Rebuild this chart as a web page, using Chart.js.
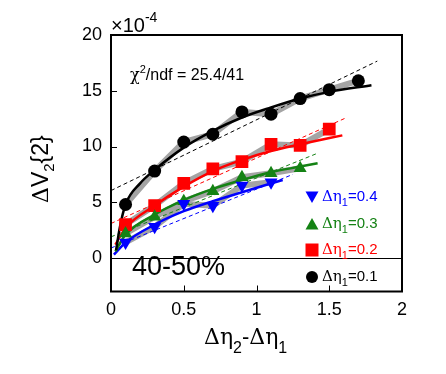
<!DOCTYPE html>
<html>
<head>
<meta charset="utf-8">
<script src="https://cdn.jsdelivr.net/npm/chart.js@4.4.1/dist/chart.umd.min.js"></script>
<style>
html, body { margin: 0; padding: 0; background: #fff; }
</style>
</head>
<body>
<canvas id="myChart" width="446" height="374"></canvas>
<script>
var xTicks = [0, 0.5, 1, 1.5, 2];
var yTicks = [0, 5, 10, 15, 20];

// Delta eta2 - Delta eta1 gap and Delta V2{2} (x 1e-4) per Delta eta1 selection
var etaGap = [0.1, 0.3, 0.5, 0.7, 0.9, 1.1, 1.3, 1.5, 1.7];
var v2Eta01 = [4.8, 7.8, 10.4, 11.1, 13.1, 12.9, 14.3, 15.1, 15.9];
var v2Eta02 = [3.0, 4.7, 6.7, 8.0, 8.65, 10.2, 10.1, 11.55];
var v2Eta03 = [2.2, 3.7, 5.1, 6.0, 7.25, 7.6, 8.05];
var v2Eta04 = [1.4, 2.8, 4.86, 4.7, 6.5, 6.8];

// fit curves
var fitX01 = [0.035, 0.06, 0.1, 0.2, 0.3, 0.5, 0.7, 0.9, 1.1, 1.3, 1.5, 1.79];
var fitY01 = [0.7, 2.7, 4.8, 6.7, 7.9, 9.9, 11.4, 12.6, 13.5, 14.3, 14.9, 15.5];
var fitX02 = [0.03, 0.1, 0.3, 0.5, 0.7, 0.9, 1.1, 1.3, 1.59];
var fitY02 = [1.2, 2.7, 4.7, 6.4, 7.8, 8.8, 9.6, 10.2, 11.0];
var fitX03 = [0.03, 0.1, 0.3, 0.5, 0.7, 0.9, 1.1, 1.3, 1.42];
var fitY03 = [0.6, 2.1, 3.9, 5.2, 6.2, 7.0, 7.7, 8.2, 8.5];
var fitX04 = [0.02, 0.1, 0.3, 0.5, 0.7, 0.9, 1.18];
var fitY04 = [0.3, 1.4, 3.0, 4.2, 5.1, 5.9, 7.0];

// straight dashed fits
var lineX01 = [0, 1.83], lineY01 = [6.05, 17.66];
var lineX02 = [0, 1.62], lineY02 = [3.1, 12.6];
var lineX03 = [0, 1.42], lineY03 = [1.9, 9.4];
var lineX04 = [0, 1.25], lineY04 = [0.9, 7.5];

var BLACK = '#000000', RED = '#ff0000', GREEN = '#148214', BLUE = '#0000ff', GREY = '#a4a4a4';
var SANS = '"Liberation Sans", Arial, sans-serif';
var SERIF = '"DejaVu Serif", "Liberation Serif", serif';

function pts(xs, ys) {
    return ys.map(function(y, i) { return { x: xs[i], y: y }; });
}

function band(ys) {
    return { data: pts(etaGap, ys), borderColor: GREY, borderWidth: 6, pointRadius: 0, order: 10 };
}
function dashed(xs, ys, color) {
    return { data: pts(xs, ys), borderColor: color, borderWidth: 1, borderDash: [4, 3], pointRadius: 0, order: 8 };
}
function fit(xs, ys, color) {
    return { data: pts(xs, ys), borderColor: color, borderWidth: 2.5, cubicInterpolationMode: 'monotone', pointRadius: 0, order: 6 };
}
function marks(ys, color, style, r, rot) {
    return {
        data: pts(etaGap, ys), showLine: false, pointStyle: style, pointRadius: r, pointRotation: rot || 0,
        backgroundColor: color, borderColor: color, borderWidth: 0, order: 1
    };
}

function drawRuns(ctx, x, y, runs, color) {
    ctx.fillStyle = color;
    ctx.textAlign = 'left';
    ctx.textBaseline = 'alphabetic';
    runs.forEach(function(r) {
        ctx.font = r.f;
        ctx.fillText(r.t, x, y + (r.dy || 0));
        x += ctx.measureText(r.t).width;
    });
}

function marker(ctx, style, x, y, color) {
    ctx.fillStyle = color;
    ctx.beginPath();
    if (style === 'circle') {
        ctx.arc(x, y, 6, 0, Math.PI * 2);
    } else if (style === 'rect') {
        ctx.rect(x - 6.5, y - 6.5, 13, 13);
    } else if (style === 'up') {
        ctx.moveTo(x - 6.5, y + 5.5); ctx.lineTo(x + 6.5, y + 5.5); ctx.lineTo(x, y - 6);
    } else {
        ctx.moveTo(x - 6.5, y - 5.5); ctx.lineTo(x + 6.5, y - 5.5); ctx.lineTo(x, y + 6);
    }
    ctx.closePath();
    ctx.fill();
}

var legendRows = [
    { style: 'down', color: BLUE, label: '0.4', y: 201 },
    { style: 'up', color: GREEN, label: '0.3', y: 228 },
    { style: 'rect', color: RED, label: '0.2', y: 254 },
    { style: 'circle', color: BLACK, label: '0.1', y: 281 }
];

var frame = {
    id: 'frame',
    beforeDatasetsDraw: function(chart) {
        var ctx = chart.ctx, a = chart.chartArea, ys = chart.scales.y;
        var y0 = Math.round(ys.getPixelForValue(0)) + 0.5;
        ctx.save();
        ctx.strokeStyle = '#000';
        ctx.lineWidth = 1;
        ctx.beginPath(); ctx.moveTo(a.left, y0); ctx.lineTo(a.right, y0); ctx.stroke();
        ctx.restore();
    },
    afterDraw: function(chart) {
        var ctx = chart.ctx, a = chart.chartArea, xs = chart.scales.x, ys = chart.scales.y;
        ctx.save();
        ctx.strokeStyle = '#000';
        ctx.lineWidth = 2;
        ctx.strokeRect(a.left, a.top, a.right - a.left, a.bottom - a.top);

        ctx.lineWidth = 1;
        ctx.beginPath();
        [5, 10, 15].forEach(function(v) {
            var py = Math.round(ys.getPixelForValue(v)) + 0.5;
            ctx.moveTo(a.left, py); ctx.lineTo(a.left + 6, py);
        });
        [0.5, 1, 1.5].forEach(function(v) {
            var px = Math.round(xs.getPixelForValue(v)) + 0.5;
            ctx.moveTo(px, a.bottom); ctx.lineTo(px, a.bottom - 6);
        });
        ctx.stroke();

        // exponent
        drawRuns(ctx, 111, 32, [
            { t: '\u00d710', f: '20px ' + SANS },
            { t: '-4', f: '14px ' + SANS, dy: -10 }
        ], '#000');

        drawRuns(ctx, 130, 80, [
            { t: '\u03c7', f: '16px ' + SERIF },
            { t: '2', f: '11px ' + SANS, dy: -7 },
            { t: '/ndf = 25.4/41', f: '16px ' + SANS }
        ], '#000');

        drawRuns(ctx, 132, 275, [{ t: '40-50%', f: '27px ' + SANS }], '#000');

        legendRows.forEach(function(r) {
            marker(ctx, r.style, 312, r.y - 4, r.color);
            drawRuns(ctx, 322, r.y, [
                { t: '\u0394\u03b7', f: '15px ' + SERIF },
                { t: '1', f: '11px ' + SANS, dy: 5 },
                { t: '=' + r.label, f: '15px ' + SANS }
            ], r.color);
        });

        // axis titles
        drawRuns(ctx, 204, 344, [
            { t: '\u0394\u03b7', f: '22px ' + SERIF },
            { t: '2', f: '16px ' + SANS, dy: 9 },
            { t: '-', f: '22px ' + SANS },
            { t: '\u0394\u03b7', f: '22px ' + SERIF },
            { t: '1', f: '16px ' + SANS, dy: 9 }
        ], '#000');

        ctx.translate(48, 203);
        ctx.rotate(-Math.PI / 2);
        drawRuns(ctx, 0, 0, [
            { t: '\u0394', f: '22px ' + SERIF },
            { t: 'V', f: '23px ' + SANS },
            { t: '2', f: '15px ' + SANS, dy: 6 },
            { t: '{2}', f: '23px ' + SANS }
        ], '#000');
        ctx.restore();
    }
};

new Chart(document.getElementById('myChart'), {
    type: 'line',
    data: {
        datasets: [
            band(v2Eta01), band(v2Eta02), band(v2Eta03), band(v2Eta04),
            dashed(lineX01, lineY01, BLACK), dashed(lineX02, lineY02, RED),
            dashed(lineX03, lineY03, GREEN), dashed(lineX04, lineY04, BLUE),
            fit(fitX01, fitY01, BLACK), fit(fitX02, fitY02, RED),
            fit(fitX03, fitY03, GREEN), fit(fitX04, fitY04, BLUE),
            marks(v2Eta04, BLUE, 'triangle', 7.5, 180),
            marks(v2Eta03, GREEN, 'triangle', 7.5),
            marks(v2Eta02, RED, 'rect', 9),
            marks(v2Eta01, BLACK, 'circle', 6.5)
        ]
    },
    options: {
        responsive: false,
        animation: false,
        layout: { padding: { left: 0, right: 44, top: 35, bottom: 0 } },
        plugins: { legend: { display: false }, tooltip: { enabled: false } },
        scales: {
            x: {
                type: 'linear', min: 0, max: 2,
                afterBuildTicks: function(s) { s.ticks = xTicks.map(function(v) { return { value: v }; }); },
                afterFit: function(s) { s.height = 82.5; },
                grid: { display: false, drawTicks: false },
                border: { display: false },
                ticks: {
                    color: '#000', font: { family: SANS, size: 18 }, padding: 8, maxRotation: 0,
                    callback: function(v) { return String(v); }
                }
            },
            y: {
                type: 'linear', min: -3, max: 20,
                afterBuildTicks: function(s) { s.ticks = yTicks.map(function(v) { return { value: v }; }); },
                afterFit: function(s) { s.width = 111; },
                grid: { display: false, drawTicks: false },
                border: { display: false },
                ticks: { color: '#000', font: { family: SANS, size: 18 }, padding: 9 }
            }
        }
    },
    plugins: [frame]
});
</script>
</body>
</html>
